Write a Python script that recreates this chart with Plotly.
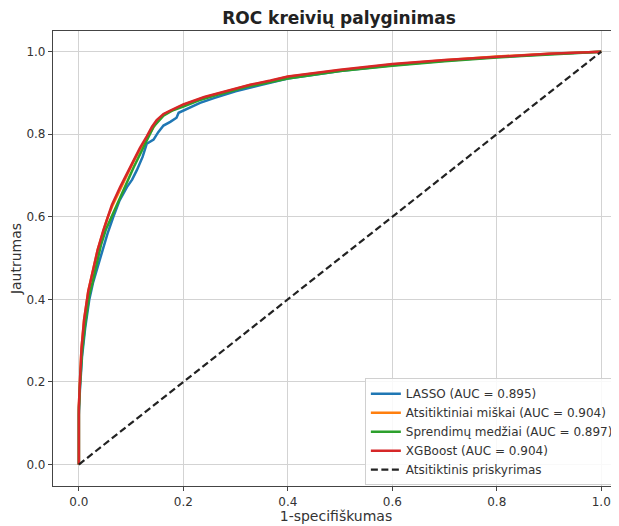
import plotly.graph_objects as go

# ROC data
fpr_lasso = [0, 0, 0.002, 0.006, 0.012, 0.02, 0.027, 0.034, 0.045, 0.055, 0.066, 0.078, 0.092, 0.102,
             0.111, 0.122, 0.130, 0.136, 0.143, 0.152, 0.162, 0.175, 0.187, 0.191, 0.2, 0.215, 0.232,
             0.26, 0.3, 0.35, 0.4, 0.5, 0.6, 0.7, 0.8, 0.9, 1.0]
tpr_lasso = [0, 0.12, 0.18, 0.26, 0.33, 0.40, 0.44, 0.47, 0.52, 0.56, 0.60, 0.64, 0.672, 0.69,
             0.713, 0.745, 0.777, 0.782, 0.787, 0.805, 0.821, 0.830, 0.840, 0.852, 0.857, 0.866, 0.876,
             0.888, 0.904, 0.920, 0.935, 0.953, 0.967, 0.978, 0.987, 0.994, 1.0]

fpr_rf = [0, 0, 0.002, 0.005, 0.01, 0.018, 0.027, 0.036, 0.047, 0.055, 0.064, 0.080, 0.093, 0.105,
          0.118, 0.131, 0.141, 0.150, 0.163, 0.176, 0.2, 0.24, 0.264, 0.303, 0.328, 0.367, 0.4,
          0.5, 0.6, 0.7, 0.8, 0.9, 1.0]
tpr_rf = [0, 0.14, 0.2, 0.28, 0.35, 0.42, 0.47, 0.52, 0.566, 0.598, 0.626, 0.670, 0.703, 0.735,
          0.765, 0.793, 0.816, 0.832, 0.848, 0.856, 0.871, 0.889, 0.897, 0.911, 0.919, 0.929, 0.939,
          0.955, 0.969, 0.979, 0.988, 0.995, 1.0]

fpr_dt = [0, 0, 0.002, 0.006, 0.012, 0.02, 0.026, 0.031, 0.042, 0.052, 0.059, 0.072, 0.088, 0.105,
          0.127, 0.143, 0.162, 0.18, 0.2, 0.23, 0.27, 0.32, 0.4, 0.5, 0.6, 0.7, 0.8, 0.9, 1.0]
tpr_dt = [0, 0.13, 0.19, 0.27, 0.34, 0.41, 0.44, 0.47, 0.53, 0.57, 0.59, 0.63, 0.672, 0.72,
          0.777, 0.818, 0.845, 0.858, 0.867, 0.882, 0.897, 0.914, 0.935, 0.953, 0.966, 0.977, 0.986,
          0.993, 1.0]

fpr_xgb = [0, 0, 0.002, 0.005, 0.01, 0.018, 0.027, 0.036, 0.047, 0.055, 0.063, 0.079, 0.092, 0.104,
           0.117, 0.130, 0.140, 0.149, 0.162, 0.175, 0.2, 0.24, 0.264, 0.303, 0.328, 0.367, 0.4,
           0.5, 0.6, 0.7, 0.8, 0.9, 1.0]
tpr_xgb = [0, 0.14, 0.2, 0.28, 0.35, 0.42, 0.47, 0.52, 0.568, 0.60, 0.628, 0.672, 0.705, 0.737,
           0.767, 0.795, 0.818, 0.834, 0.849, 0.857, 0.872, 0.890, 0.898, 0.912, 0.920, 0.930, 0.940,
           0.956, 0.970, 0.980, 0.988, 0.995, 1.0]

random_x = [0, 1]
random_y = [0, 1]

names = ["LASSO (AUC = 0.895)", "Atsitiktiniai miškai (AUC = 0.904)",
         "Sprendimų medžiai (AUC = 0.897)", "XGBoost (AUC = 0.904)"]
colors = ["#1f77b4", "#ff7f0e", "#2ca02c", "#d62728"]
curves = [(fpr_lasso, tpr_lasso), (fpr_rf, tpr_rf), (fpr_dt, tpr_dt), (fpr_xgb, tpr_xgb)]

tick_vals = [0.0, 0.2, 0.4, 0.6, 0.8, 1.0]
tick_text = ["0.0", "0.2", "0.4", "0.6", "0.8", "1.0"]

fig = go.Figure()
for (fx, ty), nm, c in zip(curves, names, colors):
    fig.add_trace(go.Scatter(x=fx, y=ty, mode="lines", name=nm,
                             line=dict(color=c, width=2.5)))
fig.add_trace(go.Scatter(x=random_x, y=random_y, mode="lines", name="Atsitiktinis priskyrimas",
                         line=dict(color="#222222", width=2.2, dash="7px,3.5px")))

# the page body has an 8px margin, so the figure is sized to the remaining window area
W, H = 611, 518
font = "DejaVu Sans, Verdana, sans-serif"
fig.update_layout(
    width=W, height=H,
    margin=dict(l=45, r=0, t=23, b=40),
    paper_bgcolor="white", plot_bgcolor="white",
    font=dict(family=font, size=12, color="#333333"),
    title=dict(text="<b>ROC kreivių palyginimas</b>", x=331/W, xanchor="center",
               y=1-10.5/H, yanchor="middle", yref="container",
               font=dict(size=17, family=font, color="#222222")),
    legend=dict(x=0.551, y=0.237, xanchor="left", yanchor="top",
                bgcolor="rgba(255,255,255,0.85)", bordercolor="#d0d0d0", borderwidth=1,
                font=dict(size=12, family=font, color="#333333"), itemwidth=30,
                tracegroupgap=0),
    showlegend=True,
)
fig.update_xaxes(range=[-0.0495, 1.034], tickvals=tick_vals, ticktext=tick_text,
                 showgrid=True, gridcolor="#d3d3d3", gridwidth=1.2,
                 showline=True, linecolor="#444444", linewidth=1.2, mirror=True,
                 ticks="outside", ticklen=4, tickcolor="#444444", zeroline=False,
                 automargin=False,
                 title=dict(text="1-specifiškumas", font=dict(size=14, family=font, color="#333333"),
                            standoff=2),
                 tickfont=dict(size=12))
fig.update_yaxes(range=[-0.052, 1.05], tickvals=tick_vals, ticktext=tick_text,
                 showgrid=True, gridcolor="#d3d3d3", gridwidth=1.2,
                 showline=True, linecolor="#444444", linewidth=1.2, mirror=True,
                 ticks="outside", ticklen=4, tickcolor="#444444", zeroline=False,
                 automargin=False,
                 title=dict(text="Jautrumas", font=dict(size=14, family=font, color="#333333"),
                            standoff=5),
                 tickfont=dict(size=12))

fig.write_html("out.html")
